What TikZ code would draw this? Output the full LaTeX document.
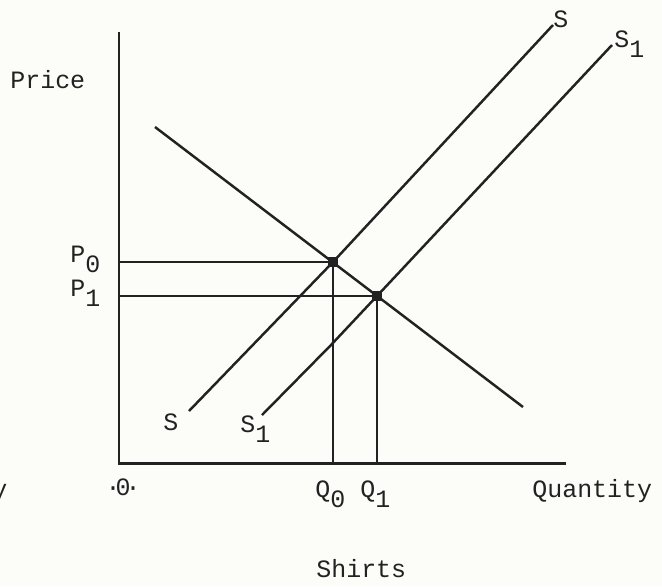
\documentclass[tikz,border=0pt]{standalone}
\usepackage{fontspec}
\setmainfont{Liberation Mono}
\usepackage{tikz}
\usetikzlibrary{positioning}
\definecolor{ink}{HTML}{222222}
\definecolor{paper}{HTML}{FCFCF9}
\newcommand{\lowsub}[1]{\raisebox{-0.8ex}{#1}}

\begin{document}
\begin{tikzpicture}[x=0.02cm, y=-0.02cm,
  lbl/.style={font=\fontsize{14.2}{17}\selectfont, text=ink, inner sep=0pt, anchor=base west},
  axis/.style={draw=ink, line width=1.7pt},
  curve/.style={draw=ink, line width=1.4pt},
  guide/.style={draw=ink, line width=1.4pt},
  eqpt/.style={fill=ink, minimum size=0.19cm, inner sep=0pt}
]
  \fill[paper] (0,0) rectangle (662,586);
  \useasboundingbox (0,0) rectangle (662,586);

  % axes
  \coordinate (origin) at (119,463);
  \coordinate (ytop) at (119,32);
  \coordinate (xend) at (566,463);
  \draw[axis] (ytop) -- (origin) -- (xend);

  % equilibria
  \node[eqpt] (e0) at (333,262) {};
  \node[eqpt] (e1) at (377,296) {};

  % demand
  \coordinate (dtop) at (155,127);
  \coordinate (dbot) at (523,407);
  \draw[curve] (dtop) -- (dbot);

  % supply S and S1
  \coordinate (sbot) at (189,411);
  \coordinate (stop) at (553,25);
  \coordinate (s1bot) at (262,415);
  \coordinate (s1kink) at (331,345);
  \coordinate (s1top) at (612,45);
  \draw[curve] (sbot) -- (e0.center) -- (stop);
  \draw[curve] (s1bot) -- (s1kink) -- (e1.center) -- (s1top);

  % price and quantity guides
  \coordinate (p0) at (119,262);
  \coordinate (p1) at (119,296);
  \coordinate (q0) at (333,463);
  \coordinate (q1) at (377,463);
  \draw[guide] (p0) -- (e0.center) -- (q0);
  \draw[guide] (p1) -- (e1.center) -- (q1);

  % labels
  \node[lbl] (price) at (10,88) {Price};
  \node[lbl] (lp0) at (70,262) {P\lowsub{0}};
  \node[lbl] (lp1) at (70,296) {P\lowsub{1}};
  \node[lbl] (lstop) at (553,27) {S};
  \node[lbl] (ls1top) at (614,47) {S\lowsub{1}};
  \node[lbl] (lsbot) at (163,430) {S};
  \node[lbl] (ls1bot) at (240,432) {S\lowsub{1}};
  \node[lbl, anchor=base] (zero) at (123,495) {·\kern-0.2em0\kern-0.2em·};
  \node[lbl] (lq0) at (315,497) {Q\lowsub{0}};
  \node[lbl] (lq1) at (360,497) {Q\lowsub{1}};
  \node[lbl] (qty) at (532,497) {Quantity};
  \node[lbl] (shirts) at (316,577) {Shirts};
  \node[lbl] (cut) at (-8,497) {y};
\end{tikzpicture}
\end{document}
